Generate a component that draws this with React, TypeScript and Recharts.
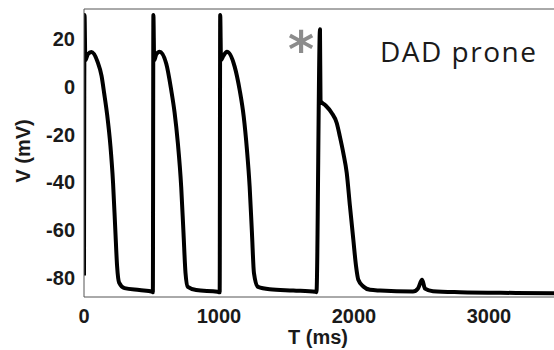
import { LineChart, Line, XAxis, YAxis, ReferenceLine } from "recharts";

// Membrane potential trace, [time ms, voltage mV], one array per beat
const beat1: [number, number][] = [
  [0, -79], [4, 30], [10, 11], [28, 13.5], [55, 14.5], [100, 10.5], [130, 4.5],
  [150, -3], [172, -12], [196, -25], [215, -40], [232, -60], [245, -75],
  [260, -82], [300, -84.3], [410, -85.1], [508, -85.8],
];
const beat2: [number, number][] = [
  [510, -86], [514, 30], [520, 11], [535, 13.5], [560, 14.6], [609, 9.7],
  [646, -1.4], [671, -10.8], [695, -23.5], [720, -41.9], [737, -61.2],
  [752, -78], [769, -83.8], [831, -85.1], [989, -85.8],
];
const beat3: [number, number][] = [
  [1005, -86], [1009, 30], [1015, 11], [1029, 12.5], [1059, 14.6], [1116, 8.4],
  [1153, -1.4], [1183, -12.5], [1207, -26.4], [1227, -41.8], [1244, -61.2],
  [1259, -78], [1289, -83.8], [1375, -84.8], [1550, -85.3], [1715, -85.8],
];
// triggered beat
const beat4: [number, number][] = [
  [1722, -86], [1748, 24], [1752, -6], [1785, -7.6], [1835, -11], [1872, -15.2],
  [1896, -21], [1921, -27.8], [1946, -36], [1970, -50], [1995, -64],
  [2015, -75], [2032, -80.8], [2069, -83.6], [2119, -85], [2193, -85.3],
  [2437, -85.7],
];
// delayed afterdepolarization and rest
const afterDep: [number, number][] = [
  [2474, -84.4], [2504, -80.8], [2526, -84.5], [2585, -85.6], [2785, -86],
  [3200, -86.3], [3600, -86.5],
];

const xTicks = [0, 1000, 2000, 3000];
const yTicks = [20, 0, -20, -40, -60, -80];
const xDomain: [number, number] = [0, 3600];
const yDomain: [number, number] = [-88, 32.5];

const trace = [...beat1, ...beat2, ...beat3, ...beat4, ...afterDep].map(([t, v]) => ({ t, v }));

const axisFont = "'Liberation Sans', Arial, Helvetica, sans-serif";
const tickStyle = { fill: "#1a1a1a", fontSize: 20, fontWeight: 700, fontFamily: axisFont };

export default function App() {
  return (
    <div
      style={{
        position: "fixed",
        left: 0,
        top: 0,
        width: 554,
        height: 350,
        overflow: "hidden",
        background: "#fff",
      }}
    >
      <LineChart width={570} height={350} data={trace} margin={{ top: 9, right: 0, bottom: 0, left: 0 }}>
        <XAxis
          dataKey="t"
          type="number"
          domain={xDomain}
          ticks={xTicks}
          allowDataOverflow
          height={53}
          tickLine={false}
          tickSize={0}
          tickMargin={12}
          axisLine={{ stroke: "#555" }}
          tick={tickStyle}
        />
        <YAxis
          type="number"
          domain={yDomain}
          ticks={yTicks}
          allowDataOverflow
          width={84}
          tickLine={false}
          tickSize={0}
          tickMargin={9}
          axisLine={{ stroke: "#555" }}
          tick={tickStyle}
        />
        <ReferenceLine y={yDomain[1]} stroke="#555" />
        <Line
          dataKey="v"
          type="monotone"
          stroke="#000"
          strokeWidth={4}
          strokeLinejoin="round"
          dot={false}
          isAnimationActive={false}
        />
      </LineChart>
      <svg
        width={554}
        height={350}
        style={{ position: "absolute", left: 0, top: 0, pointerEvents: "none" }}
      >
        <text
          transform="translate(30,151) rotate(-90)"
          textAnchor="middle"
          fontFamily={axisFont}
          fontWeight={700}
          fontSize={20}
          fill="#1a1a1a"
        >
          V (mV)
        </text>
        <text x={318} y={344} textAnchor="middle" fontFamily={axisFont} fontWeight={700} fontSize={20} fill="#1a1a1a">
          T (ms)
        </text>
        <text x={301} y={67} textAnchor="middle" fontFamily="'DejaVu Sans', sans-serif" fontWeight={700} fontSize={50} fill="#8c8c8c">
          *
        </text>
        <text x={380} y={62} fontFamily="'Open Sans', sans-serif" fontSize={28} letterSpacing={1.5} fill="#1a1a1a">
          DAD prone
        </text>
      </svg>
    </div>
  );
}
